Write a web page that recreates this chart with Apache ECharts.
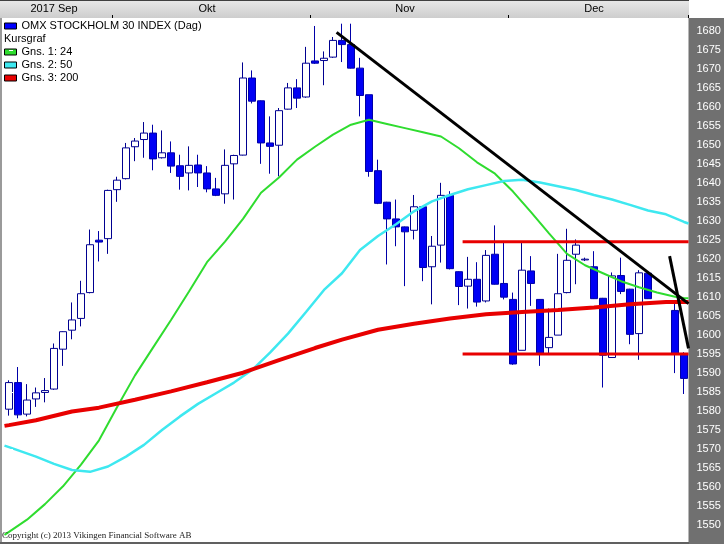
<!DOCTYPE html>
<html><head><meta charset="utf-8">
<script src="https://cdn.jsdelivr.net/npm/echarts@6/dist/echarts.min.js"></script>
<style>html,body{margin:0;padding:0;background:#fff}#c{width:724px;height:544px}</style>
</head><body><div id="c"></div>
<script>
// ---- categories (trading days; Dec 25/26 are holidays with no data) ----
const dates = ['2017-09-14','2017-09-15','2017-09-18','2017-09-19','2017-09-20','2017-09-21','2017-09-22','2017-09-25','2017-09-26','2017-09-27','2017-09-28','2017-09-29',
'2017-10-02','2017-10-03','2017-10-04','2017-10-05','2017-10-06','2017-10-09','2017-10-10','2017-10-11','2017-10-12','2017-10-13','2017-10-16','2017-10-17','2017-10-18','2017-10-19','2017-10-20','2017-10-23','2017-10-24','2017-10-25','2017-10-26','2017-10-27','2017-10-30','2017-10-31',
'2017-11-01','2017-11-02','2017-11-03','2017-11-06','2017-11-07','2017-11-08','2017-11-09','2017-11-10','2017-11-13','2017-11-14','2017-11-15','2017-11-16','2017-11-17','2017-11-20','2017-11-21','2017-11-22','2017-11-23','2017-11-24','2017-11-27','2017-11-28','2017-11-29','2017-11-30',
'2017-12-01','2017-12-04','2017-12-05','2017-12-06','2017-12-07','2017-12-08','2017-12-11','2017-12-12','2017-12-13','2017-12-14','2017-12-15','2017-12-18','2017-12-19','2017-12-20','2017-12-21','2017-12-22','2017-12-25','2017-12-26','2017-12-27','2017-12-28'];

// ---- OHLC values ----
const opens = [1580.5,1587.5,1579.2,1583.2,1584.9,1585.8,1596.3,1601.3,1604.4,1611.2,1625.0,1625.4,
1638.3,1641.2,1649.6,1651.5,1653.2,1646.7,1648.0,1644.6,1642.7,1644.8,1642.7,1638.5,1637.2,1645.1,1647.4,1667.7,1661.7,1650.6,1650.0,1659.5,1665.1,1662.7,
1672.2,1672.3,1673.2,1677.6,1676.5,1670.3,1663.3,1643.3,1635.0,1630.6,1628.5,1627.6,1633.8,1618.0,1623.7,1636.8,1616.7,1612.9,1614.7,1609.0,1621.3,1613.6,
1609.4,1596.0,1616.9,1609.4,1596.7,1600.0,1611.2,1621.3,1619.8,1618.0,1609.7,1594.1,1615.7,1612.1,1600.4,1616.3,null,null,1606.5,1595.0];
const closes = [1587.5,1579.0,1582.9,1584.8,1585.4,1596.5,1600.9,1604.0,1610.9,1623.8,1624.5,1638.1,
1640.8,1649.3,1651.1,1653.2,1646.4,1648.0,1644.5,1641.8,1644.7,1642.7,1638.5,1636.8,1644.7,1647.3,1667.7,1661.6,1650.6,1649.7,1659.1,1665.1,1662.4,1671.6,
1671.6,1672.9,1677.6,1676.5,1670.3,1663.1,1643.1,1634.7,1630.6,1628.5,1627.2,1633.8,1617.8,1623.4,1636.8,1617.5,1612.8,1614.7,1608.7,1621.0,1613.4,1610.0,
1592.4,1617.1,1613.6,1595.2,1599.4,1610.9,1619.7,1623.7,1620.0,1609.6,1594.7,1615.6,1611.5,1600.2,1616.4,1609.6,null,null,1595.0,1588.6];
const lows = [1578.8,1578.1,1578.6,1581.1,1582.3,1585.6,1591.9,1598.9,1602.3,1611.0,1619.4,1621.4,
1635.1,1641.0,1645.8,1646.7,1643.4,1646.5,1642.7,1638.3,1638.1,1639.0,1637.6,1636.6,1634.6,1635.7,1647.3,1661.0,1645.1,1642.5,1641.8,1659.4,1659.8,1662.5,
1671.4,1665.8,1673.0,1671.9,1670.2,1657.6,1641.7,1634.5,1618.6,1623.4,1612.9,1625.2,1614.2,1608.1,1619.1,1617.3,1607.9,1607.0,1607.5,1608.6,1613.3,1609.4,
1592.2,1596.0,1607.7,1591.9,1595.2,1600.0,1611.0,1613.4,1619.5,1609.5,1586.2,1594.0,1610.8,1597.6,1593.5,1609.5,null,null,1590.0,1584.5];
const highs = [1588.1,1591.6,1587.1,1586.2,1588.7,1597.8,1601.0,1608.6,1614.3,1627.8,1627.4,1638.3,
1641.7,1650.6,1651.9,1656.1,1655.4,1653.9,1651.0,1647.5,1649.7,1647.5,1644.5,1641.4,1648.9,1647.5,1671.8,1669.7,1661.8,1657.6,1659.8,1666.4,1667.4,1675.9,
1681.4,1674.7,1678.5,1682.0,1682.0,1673.0,1663.3,1646.2,1635.1,1635.7,1628.6,1636.9,1634.0,1626.1,1640.1,1637.9,1616.8,1620.6,1619.2,1622.4,1628.9,1624.8,
1611.2,1624.3,1620.8,1609.5,1607.0,1621.4,1628.0,1625.2,1620.4,1622.1,1609.8,1616.5,1620.4,1612.2,1617.1,1616.5,null,null,1608.5,1595.5];

// ---- moving averages (index position, value) ----
const ma24Idx = [-0.5,0,2,4,6,8,10,12,14,16,18,20,22,24,26,28,30,32,34,36,38,40,42,44,46,48,50,52,54,56,58,60,62,64,66,68,70,72,74,75,75.5];
const ma24Val = [1547.4,1548.2,1551.4,1555.5,1560.2,1565.9,1572.3,1581.0,1589.4,1596.7,1604.0,1611.5,1619.2,1624.6,1630.6,1637.5,1641.5,1646.2,1649.6,1652.8,1655.4,1656.7,1655.6,1654.5,1653.4,1652.3,1649.2,1645.5,1642.5,1637.8,1632.4,1626.8,1621.4,1618.4,1616.3,1614.2,1612.6,1611.2,1610.1,1609.8,1609.7];
const ma50Idx = [-0.5,0,3,5,7,9,11,13,15,17,19,21,23,25,27,29,31,33,35,37,39,41,43,45,47,49,51,53,55,57,59,61,63,65,67,69,71,73,75,75.5];
const ma50Val = [1570.9,1570.5,1568.0,1566.1,1564.5,1564.0,1565.4,1568.0,1571.1,1575.0,1578.6,1581.9,1584.7,1587.5,1590.8,1595.4,1600.4,1606.1,1611.9,1616.3,1622.4,1626.1,1629.2,1632.6,1635.2,1636.9,1638.4,1639.5,1640.6,1640.9,1640.2,1639.2,1638.2,1636.9,1635.7,1634.3,1632.8,1631.8,1629.8,1629.4];
const ma200Idx = [-0.5,0,3,7,10,14,18,22,26,30,34,37,41,45,49,53,57,61,65,69,73,75,75.5];
const ma200Val = [1576.1,1576.3,1577.6,1579.9,1580.9,1583.0,1585.2,1587.6,1590.1,1593.4,1596.6,1598.8,1601.4,1603.0,1604.4,1605.5,1606.1,1606.6,1607.3,1608.1,1608.7,1608.7,1608.7];

// ---- drawn trend / level lines (index position, value) ----
const trend1 = [[36.4,1679.7],[75.5,1608.3]];
const trend2 = [[73.4,1620.8],[75.5,1596.5]];
const resistance = [[50.4,1624.6],[75.5,1624.6]];
const support = [[50.4,1595.0],[75.5,1595.0]];

// ---- axis labels ----
const monthLabels = ['2017 Sep','Okt','Nov','Dec'];
const monthLabelIdx = [5,22,44,65];
const monthStartIdx = [12,34,56];

const NAME_OMX = 'OMX STOCKHOLM 30 INDEX (Dag)';
const FONT = 'Liberation Sans, Arial, sans-serif';

const candleData = dates.map((d,i)=> opens[i]==null ? '-' : [opens[i],closes[i],lows[i],highs[i]]);
const zip = (a,b)=>a.map((x,i)=>[x,b[i]]);

const chart = echarts.init(document.getElementById('c'), null, {renderer:'canvas'});
chart.setOption({
  animation:false,
  backgroundColor:'#ffffff',
  grid:[
    {left:4.5, right:35.5, top:18, bottom:0, outerBoundsMode:'none', containLabel:false},
    {left:4.5, right:35.5, top:0, height:18, outerBoundsMode:'none', containLabel:false}
  ],
  xAxis:[
    {gridIndex:0, type:'category', data:dates, boundaryGap:true, show:false},
    {gridIndex:1, type:'category', data:dates, boundaryGap:true, position:'bottom', z:10,
     axisLine:{show:false},
     axisTick:{show:true, inside:true, length:3, lineStyle:{color:'#000', width:1}, interval:(i)=>monthStartIdx.includes(i)},
     axisLabel:{show:true, inside:true, margin:4, color:'#000', fontSize:11, fontFamily:FONT,
       interval:(i)=>monthLabelIdx.includes(i),
       formatter:(v,i)=>{const k=monthLabelIdx.indexOf(i);return k>=0?monthLabels[k]:'';}},
     splitLine:{show:false}},
    {gridIndex:0, type:'value', min:-0.5, max:75.5, show:false}
  ],
  yAxis:[
    {gridIndex:0, type:'value', position:'right', min:1545, max:1683.5, interval:5, z:10,
     axisLine:{show:false},
     axisTick:{show:true, inside:false, length:4, lineStyle:{color:'#ffffff', width:1}},
     axisLabel:{color:'#ffffff', fontSize:11, fontFamily:FONT, margin:8, showMinLabel:false, showMaxLabel:false,
       formatter:(v)=>String(v)},
     splitLine:{show:false}},
    {gridIndex:1, type:'value', show:false}
  ],
  graphic:[
    {type:'rect', z:1, silent:true, shape:{x:0,y:0,width:689,height:18},
     style:{fill:{type:'linear',x:0,y:0,x2:0,y2:1,colorStops:[{offset:0,color:'#e8e8e8'},{offset:1,color:'#cdcdcd'}]}}},
    {type:'rect', z:2, silent:true, shape:{x:0,y:0,width:689,height:1}, style:{fill:'#404040'}},
    {type:'rect', z:1, silent:true, shape:{x:688.5,y:18,width:36,height:526}, style:{fill:'#707070'}},
    {type:'rect', z:50, silent:true, shape:{x:0,y:18,width:2,height:526}, style:{fill:'#9a9a9a'}},
    {type:'rect', z:50, silent:true, shape:{x:0,y:542,width:689,height:2}, style:{fill:'#606060'}}
  ],
  title:[
    {text:'Kursgraf', left:4, top:32, padding:0, textStyle:{fontSize:11, fontWeight:'normal', color:'#000', fontFamily:FONT, lineHeight:13}},
    {text:'Copyright (c) 2013 Vikingen Financial Software AB', left:2, top:531, padding:0,
     textStyle:{fontSize:9, fontWeight:'normal', color:'#222', fontFamily:'Liberation Serif, Times New Roman, serif'}}
  ],
  legend:[
    {left:4, top:19.5, padding:0, itemWidth:12, itemHeight:6, itemGap:0, selectedMode:false,
     textStyle:{fontSize:11, color:'#000', fontFamily:FONT, lineHeight:13},
     data:[{name:NAME_OMX, icon:'rect', itemStyle:{color:'#0000ff', borderColor:'#000', borderWidth:1}}]},
    {left:4, top:45.5, padding:0, orient:'vertical', itemWidth:12, itemHeight:6, itemGap:0, selectedMode:false,
     textStyle:{fontSize:11, color:'#000', fontFamily:FONT, lineHeight:13},
     data:[
      {name:'Gns. 1: 24', icon:'rect', itemStyle:{color:'#2fdc2f', borderColor:'#000', borderWidth:1}},
      {name:'Gns. 2: 50', icon:'rect', itemStyle:{color:'#3ee8f0', borderColor:'#000', borderWidth:1}},
      {name:'Gns. 3: 200', icon:'rect', itemStyle:{color:'#e80000', borderColor:'#000', borderWidth:1}}
     ]}
  ],
  series:[
    {type:'candlestick', name:NAME_OMX, xAxisIndex:0, yAxisIndex:0, data:candleData, barWidth:7, z:2,
     itemStyle:{color:'#ffffff', color0:'#0000f5', borderColor:'#000090', borderColor0:'#0000a8', borderWidth:1}},
    {type:'line', name:'Gns. 1: 24', xAxisIndex:2, yAxisIndex:0, data:zip(ma24Idx,ma24Val), symbol:'none', z:3,
     lineStyle:{color:'#2fdc2f', width:2}, itemStyle:{color:'#2fdc2f'}},
    {type:'line', name:'Gns. 2: 50', xAxisIndex:2, yAxisIndex:0, data:zip(ma50Idx,ma50Val), symbol:'none', z:3,
     lineStyle:{color:'#3ee8f0', width:2.5}, itemStyle:{color:'#3ee8f0'}},
    {type:'line', name:'Gns. 3: 200', xAxisIndex:2, yAxisIndex:0, data:zip(ma200Idx,ma200Val), symbol:'none', z:3,
     lineStyle:{color:'#e80000', width:4}, itemStyle:{color:'#e80000'}},
    {type:'line', name:'res', xAxisIndex:2, yAxisIndex:0, data:resistance, symbol:'none', z:4, silent:true,
     lineStyle:{color:'#e80000', width:3}},
    {type:'line', name:'sup', xAxisIndex:2, yAxisIndex:0, data:support, symbol:'none', z:4, silent:true,
     lineStyle:{color:'#e80000', width:3}},
    {type:'line', name:'t1', xAxisIndex:2, yAxisIndex:0, data:trend1, symbol:'none', z:5, silent:true,
     lineStyle:{color:'#000000', width:3}},
    {type:'line', name:'t2', xAxisIndex:2, yAxisIndex:0, data:trend2, symbol:'none', z:5, silent:true,
     lineStyle:{color:'#000000', width:3}}
  ]
});
</script></body></html>
